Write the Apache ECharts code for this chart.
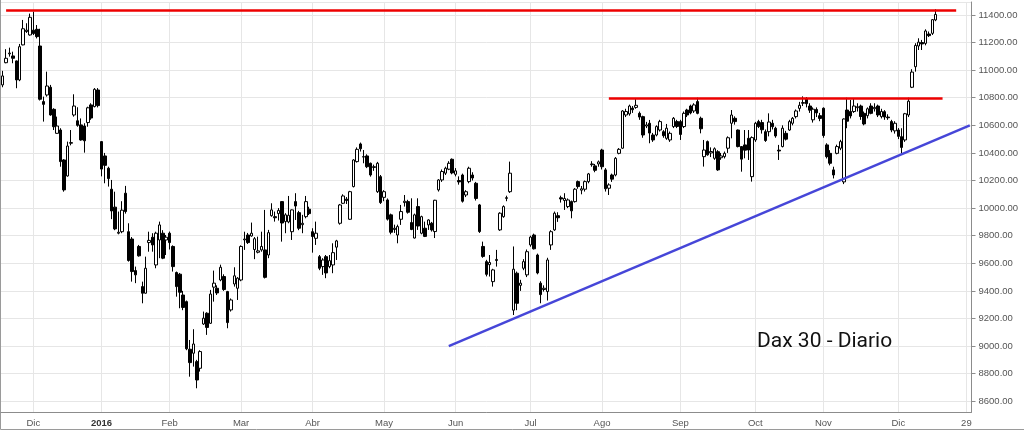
<!DOCTYPE html>
<html>
<head>
<meta charset="utf-8">
<title>Dax 30 - Diario</title>
<script src="https://cdn.jsdelivr.net/npm/echarts@6/dist/echarts.min.js"></script>
<style>
  html, body { margin: 0; padding: 0; background: #fff; }
  #chart { width: 1024px; height: 430px; }
</style>
</head>
<body>
<div id="chart"></div>
<script>
// Xetra sessions shown on the axis (future days up to 30 Dec are empty)
const firstDay = '2015-11-18'
const lastDay = '2016-12-30'
const closedDays = ['2015-12-24', '2015-12-25', '2015-12-31', '2016-01-01',
  '2016-03-25', '2016-03-28', '2016-05-16', '2016-10-03']

// month ticks
const tickDates = ['2015-12-01', '2016-01-04', '2016-02-01', '2016-03-01', '2016-04-01', '2016-05-02',
  '2016-06-01', '2016-07-01', '2016-08-01', '2016-09-01', '2016-10-04', '2016-11-01', '2016-12-01', '2016-12-29']
const tickLabels = ['Dic', '2016', 'Feb', 'Mar', 'Abr', 'May', 'Jun', 'Jul', 'Ago', 'Sep', 'Oct', 'Nov', 'Dic', '29']

// daily candles from 18 Nov 2015: [open, close, low, high]
const candles = [
  [10893, 10958, 10876, 10995], [11054, 11086, 11050, 11152], [11118, 11124, 11098, 11163], [11103, 11086, 11050, 11134],
  [11067, 10929, 10869, 11070], [10929, 11170, 10920, 11190], [11183, 11300, 11180, 11364], [11280, 11290, 11270, 11340],
  [11255, 11383, 11250, 11410], [11290, 11265, 11255, 11424], [11296, 11243, 11230, 11327], [11175, 10789, 10780, 11300],
  [10772, 10752, 10627, 10808], [10820, 10885, 10808, 10989], [10876, 10675, 10670, 10893], [10716, 10590, 10566, 10724],
  [10542, 10595, 10540, 10663], [10566, 10337, 10300, 10579], [10349, 10132, 10119, 10355], [10233, 10450, 10228, 10482],
  [10470, 10475, 10455, 10566], [10675, 10740, 10663, 10825], [10633, 10600, 10590, 10731], [10603, 10494, 10489, 10650],
  [10595, 10488, 10402, 10615], [10620, 10727, 10590, 10735], [10748, 10653, 10640, 10760], [10736, 10861, 10730, 10870],
  [10856, 10743, 10730, 10870], [10482, 10283, 10230, 10485], [10378, 10310, 10180, 10400], [10289, 10214, 10156, 10300],
  [10137, 9979, 9920, 10204], [10007, 9849, 9840, 10119], [9818, 9825, 9810, 9975], [9829, 9985, 9818, 10050],
  [10108, 9975, 9960, 10161], [9829, 9620, 9612, 9890], [9776, 9540, 9467, 9790], [9547, 9516, 9456, 9576],
  [9722, 9654, 9648, 9733], [9431, 9383, 9310, 9467], [9383, 9564, 9380, 9648], [9750, 9766, 9684, 9829],
  [9789, 9733, 9684, 9818], [9588, 9818, 9564, 9829], [9769, 9878, 9637, 9902], [9818, 9637, 9630, 9840],
  [9769, 9789, 9660, 9805], [9818, 9750, 9700, 9830], [9722, 9576, 9540, 9730], [9533, 9431, 9358, 9540],
  [9521, 9390, 9274, 9530], [9370, 9280, 9260, 9400], [9322, 8980, 8970, 9330], [8977, 8880, 8778, 9044],
  [8948, 9015, 8851, 9122], [8887, 8754, 8694, 8900], [8839, 8960, 8815, 8970], [9160, 9202, 9153, 9250],
  [9238, 9135, 9081, 9245], [9165, 9377, 9160, 9407], [9427, 9456, 9322, 9547], [9419, 9385, 9370, 9440],
  [9479, 9571, 9470, 9590], [9504, 9410, 9400, 9520], [9395, 9170, 9129, 9400], [9262, 9334, 9250, 9345],
  [9450, 9509, 9431, 9571], [9419, 9492, 9334, 9500], [9479, 9722, 9470, 9730], [9770, 9776, 9697, 9829],
  [9805, 9750, 9740, 9820], [9798, 9818, 9793, 9895], [9700, 9778, 9630, 9790], [9680, 9690, 9672, 9793],
  [9697, 9722, 9684, 9829], [9697, 9498, 9490, 9987], [9660, 9822, 9637, 9842], [9945, 9987, 9938, 10035],
  [9938, 9930, 9902, 9975], [9960, 9983, 9910, 10000], [10047, 9892, 9757, 10050], [9902, 9951, 9818, 9963],
  [9900, 9948, 9890, 10088], [9829, 9987, 9769, 9990], [10047, 10015, 9914, 10108], [9967, 9854, 9840, 9980],
  [9880, 9890, 9818, 9951], [9938, 10047, 9926, 10088], [9992, 9960, 9950, 10010], [9829, 9794, 9677, 9854],
  [9781, 9818, 9733, 9902], [9648, 9564, 9550, 9660], [9576, 9624, 9516, 9637], [9648, 9530, 9492, 9660],
  [9576, 9619, 9564, 9660], [9588, 9677, 9528, 9745], [9717, 9762, 9624, 9770], [9890, 10023, 9880, 10030],
  [10035, 10088, 10030, 10100], [10065, 10055, 10030, 10080], [9919, 10119, 9915, 10125], [10156, 10349, 10150, 10355],
  [10337, 10426, 10330, 10440], [10465, 10430, 10410, 10475], [10370, 10373, 10325, 10421], [10378, 10300, 10290, 10390],
  [10325, 10240, 10228, 10330], [10295, 10300, 10270, 10315], [10119, 10325, 10110, 10335], [10228, 10040, 10030, 10240],
  [10078, 10119, 10050, 10130], [10059, 9920, 9910, 10070], [9951, 9825, 9810, 9960], [9845, 9854, 9820, 9880],
  [9805, 9866, 9745, 9880], [9919, 9975, 9878, 10023], [10040, 10050, 10011, 10095], [10047, 9970, 9960, 10060],
  [9895, 9845, 9840, 10071], [9783, 9951, 9780, 9960], [10011, 9870, 9842, 10071], [9818, 9938, 9810, 9945],
  [9854, 9795, 9790, 9902], [9878, 9914, 9842, 9919], [9890, 9842, 9830, 9900], [9830, 10057, 9783, 10060],
  [10132, 10204, 10120, 10210], [10204, 10265, 10190, 10280], [10253, 10289, 10240, 10300], [10282, 10325, 10275, 10340],
  [10354, 10255, 10245, 10360], [10245, 10270, 10230, 10290], [10200, 10190, 10170, 10230], [10240, 10050, 10040, 10250],
  [10095, 10119, 10080, 10130], [10192, 10289, 10180, 10300], [10240, 10218, 10200, 10260], [10180, 10070, 10055, 10190],
  [10023, 9830, 9820, 10030], [9722, 9650, 9640, 9757], [9612, 9520, 9505, 9625], [9590, 9606, 9504, 9660],
  [9467, 9552, 9431, 9560], [9620, 9628, 9576, 9697], [9842, 9963, 9835, 9970], [9938, 10011, 9930, 10020],
  [10075, 10071, 10050, 10090], [10119, 10253, 10110, 10337], [9260, 9557, 9225, 9722], [9528, 9310, 9260, 9540],
  [9440, 9456, 9400, 9480], [9564, 9612, 9550, 9630], [9516, 9684, 9500, 9700], [9733, 9790, 9720, 9800],
  [9805, 9705, 9700, 9815], [9660, 9530, 9520, 9670], [9456, 9373, 9310, 9470], [9410, 9419, 9395, 9440],
  [9395, 9624, 9330, 9640], [9733, 9829, 9697, 9840], [9842, 9963, 9835, 9975], [9945, 9930, 9900, 9970],
  [10075, 10066, 10040, 10090], [10055, 10070, 9987, 10108], [10011, 10059, 10000, 10070], [10047, 9980, 9926, 10055],
  [10047, 10137, 10040, 10145], [10192, 10156, 10140, 10200], [10130, 10140, 10100, 10160], [10137, 10192, 10120, 10200],
  [10192, 10248, 10180, 10255], [10315, 10320, 10300, 10340], [10306, 10274, 10260, 10320], [10320, 10335, 10300, 10345],
  [10421, 10300, 10280, 10430], [10277, 10140, 10120, 10290], [10144, 10168, 10095, 10180], [10240, 10210, 10190, 10250],
  [10240, 10361, 10230, 10370], [10397, 10426, 10390, 10435], [10434, 10704, 10430, 10710], [10675, 10700, 10660, 10720],
  [10683, 10740, 10670, 10750], [10725, 10713, 10690, 10740], [10730, 10745, 10720, 10790], [10687, 10660, 10640, 10700],
  [10663, 10530, 10510, 10670], [10595, 10603, 10580, 10625], [10615, 10544, 10470, 10639], [10530, 10494, 10480, 10545],
  [10530, 10591, 10520, 10600], [10566, 10627, 10555, 10640], [10554, 10525, 10510, 10565], [10506, 10579, 10495, 10610],
  [10494, 10542, 10480, 10555], [10591, 10651, 10580, 10660], [10627, 10592, 10580, 10640], [10627, 10534, 10494, 10640],
  [10591, 10687, 10580, 10700], [10711, 10675, 10660, 10720], [10740, 10690, 10680, 10750], [10704, 10748, 10690, 10760],
  [10772, 10687, 10680, 10800], [10651, 10575, 10542, 10663], [10373, 10421, 10301, 10494], [10482, 10386, 10380, 10490],
  [10400, 10410, 10370, 10440], [10361, 10430, 10350, 10440], [10409, 10277, 10270, 10420], [10365, 10378, 10350, 10400],
  [10373, 10397, 10360, 10410], [10434, 10510, 10400, 10520], [10615, 10675, 10506, 10711], [10651, 10627, 10605, 10665],
  [10566, 10446, 10440, 10570], [10446, 10355, 10264, 10450], [10458, 10420, 10361, 10566], [10506, 10421, 10349, 10566],
  [10228, 10511, 10192, 10520], [10494, 10615, 10480, 10625], [10627, 10591, 10580, 10640], [10620, 10568, 10540, 10640],
  [10554, 10490, 10480, 10570], [10554, 10624, 10520, 10687], [10615, 10590, 10570, 10640], [10579, 10523, 10510, 10590],
  [10420, 10414, 10349, 10458], [10446, 10579, 10440, 10600], [10542, 10500, 10490, 10560], [10566, 10627, 10560, 10640],
  [10615, 10651, 10600, 10660], [10663, 10704, 10650, 10715], [10723, 10745, 10700, 10770], [10760, 10765, 10740, 10810],
  [10790, 10757, 10730, 10805], [10740, 10710, 10690, 10760], [10640, 10717, 10620, 10730], [10715, 10690, 10660, 10730],
  [10670, 10650, 10630, 10690], [10724, 10526, 10510, 10730], [10458, 10373, 10360, 10470], [10397, 10325, 10310, 10420],
  [10277, 10240, 10215, 10300], [10397, 10446, 10390, 10460], [10434, 10482, 10420, 10495], [10190, 10646, 10174, 10650],
  [10711, 10630, 10579, 10800], [10700, 10668, 10650, 10784], [10700, 10740, 10690, 10790], [10728, 10735, 10700, 10760],
  [10740, 10664, 10640, 10750], [10687, 10610, 10600, 10700], [10670, 10720, 10650, 10730], [10740, 10687, 10680, 10760],
  [10720, 10730, 10700, 10760], [10740, 10675, 10660, 10750], [10663, 10700, 10650, 10720], [10699, 10660, 10640, 10710],
  [10660, 10655, 10640, 10680], [10627, 10566, 10550, 10640], [10560, 10615, 10540, 10630], [10566, 10520, 10500, 10580],
  [10518, 10440, 10397, 10579], [10494, 10684, 10480, 10690], [10675, 10775, 10660, 10800], [10876, 10986, 10870, 11007],
  [11025, 11179, 10989, 11195], [11175, 11203, 11146, 11231], [11200, 11190, 11146, 11219], [11194, 11284, 11180, 11296],
  [11262, 11250, 11240, 11280], [11267, 11366, 11255, 11370], [11364, 11404, 11355, 11441]
]

// hand-drawn levels: two resistances and the rising support
const topResistance = { from: '2015-11-19', to: '2016-12-26', value: 11436 }
const midResistance = { from: '2016-08-03', to: '2016-12-20', value: 10795 }
const supportLine = { from: '2016-05-30', fromValue: 9000, to: '2016-12-30', toValue: 10600 }

function tradingDays(start, end, closed) {
  const out = []
  const d = new Date(start + 'T12:00:00Z')
  const stop = new Date(end + 'T12:00:00Z')
  while (d <= stop) {
    const iso = d.toISOString().slice(0, 10)
    const wd = d.getUTCDay()
    if (wd !== 0 && wd !== 6 && closed.indexOf(iso) < 0) out.push(iso)
    d.setUTCDate(d.getUTCDate() + 1)
  }
  return out
}

const sessions = tradingDays(firstDay, lastDay, closedDays)
const isTick = (index, value) => tickDates.indexOf(value) >= 0

const chart = echarts.init(document.getElementById('chart'))

const option = {
  animation: false,
  backgroundColor: '#ffffff',
  grid: { left: 1, right: 52.5, top: 2, bottom: 18 },
  title: {
    text: 'Dax 30 - Diario',
    left: 752,
    top: 326,
    textStyle: { fontFamily: 'Roboto', fontSize: 21, fontWeight: 'normal', color: '#111111' }
  },
  xAxis: {
    type: 'category',
    data: sessions,
    boundaryGap: true,
    axisLine: { lineStyle: { color: '#8c8c8c' } },
    axisTick: { alignWithLabel: true, interval: isTick, length: 4, lineStyle: { color: '#8c8c8c' } },
    axisLabel: {
      interval: isTick,
      margin: 6,
      color: '#555555',
      fontFamily: 'Arial',
      fontSize: 9.5,
      formatter: (value) => {
        const label = tickLabels[tickDates.indexOf(value)]
        return label === '2016' ? '{b|2016}' : label
      },
      rich: { b: { fontWeight: 'bold', color: '#333333', fontFamily: 'Arial', fontSize: 9.5 } }
    },
    splitLine: { show: true, interval: isTick, alignWithLabel: true, lineStyle: { color: '#e6e6e6' } }
  },
  yAxis: {
    type: 'value',
    position: 'right',
    scale: true,
    min: 8522,
    max: 11494,
    minInterval: 200,
    maxInterval: 200,
    splitNumber: 15,
    axisLine: { show: true, lineStyle: { color: '#8c8c8c' } },
    axisTick: { show: true, length: 4, lineStyle: { color: '#8c8c8c' } },
    axisLabel: {
      showMinLabel: false,
      showMaxLabel: false,
      margin: 7,
      color: '#555555',
      fontFamily: 'Arial',
      fontSize: 9.5,
      formatter: (v) => (v % 200 === 0 ? v.toFixed(2) : '')
    },
    splitLine: { lineStyle: { color: '#e6e6e6' } }
  },
  series: [
    {
      name: 'DAX',
      type: 'candlestick',
      data: candles,
      barWidth: 3,
      itemStyle: {
        color: '#ffffff',
        color0: '#000000',
        borderColor: '#000000',
        borderColor0: '#000000',
        borderWidth: 1
      },
      markLine: {
        silent: true,
        symbol: 'none',
        label: { show: false },
        data: [
          [
            { coord: [topResistance.from, topResistance.value], lineStyle: { color: '#ee0000', width: 2.5, type: 'solid' } },
            { coord: [topResistance.to, topResistance.value] }
          ],
          [
            { coord: [midResistance.from, midResistance.value], lineStyle: { color: '#ee0000', width: 2.5, type: 'solid' } },
            { coord: [midResistance.to, midResistance.value] }
          ],
          [
            { coord: [supportLine.from, supportLine.fromValue], lineStyle: { color: '#4646d8', width: 2.5, type: 'solid' } },
            { coord: [supportLine.to, supportLine.toValue] }
          ]
        ]
      }
    }
  ],
  graphic: [
    {
      type: 'polyline',
      silent: true,
      shape: { points: [[0.5, 0], [0.5, 429.5], [1024, 429.5]] },
      style: { stroke: '#9a9a9a', fill: null, lineWidth: 1 }
    }
  ]
}

chart.setOption(option)
window.addEventListener('resize', () => chart.resize())
</script>
</body>
</html>
